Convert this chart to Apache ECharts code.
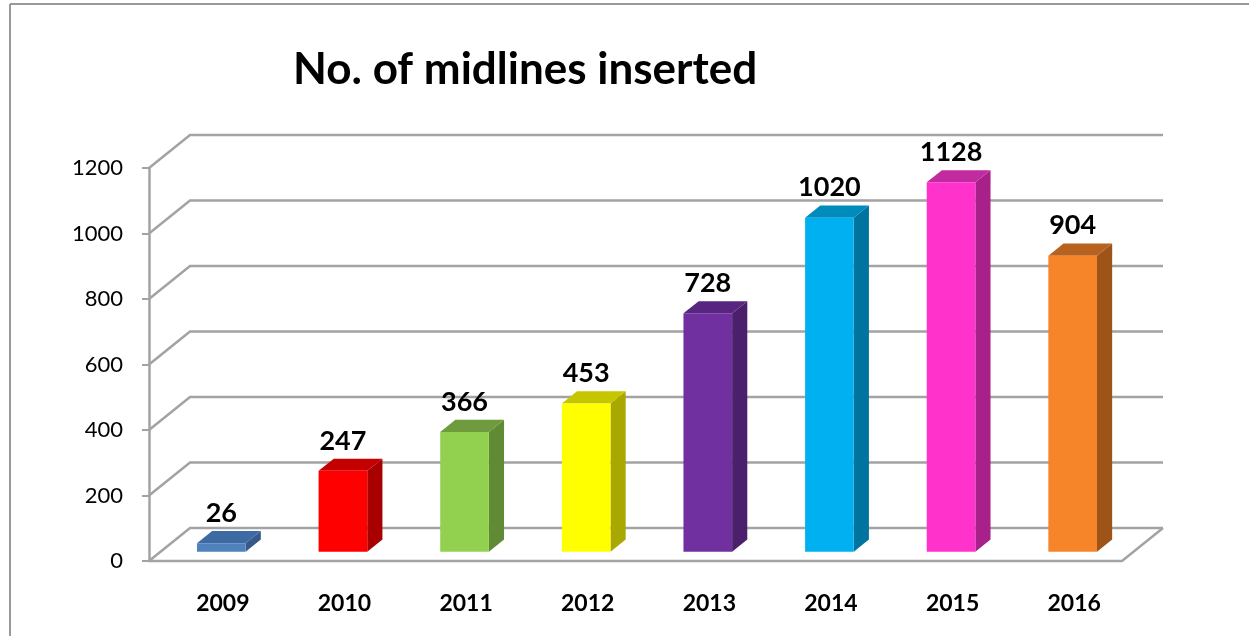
<!DOCTYPE html>
<html>
<head>
<meta charset="utf-8">
<script src="https://cdn.jsdelivr.net/npm/echarts@6/dist/echarts.min.js"></script>
<style>
  html, body { margin: 0; padding: 0; background: #ffffff; }
  #chart { width: 1249px; height: 636px; }
</style>
</head>
<body>
<div id="chart"></div>
<script>
// Chart data
const years = ['2009', '2010', '2011', '2012', '2013', '2014', '2015', '2016'];
const midlines = [26, 247, 366, 453, 728, 1020, 1128, 904];
const yTickValues = [0, 200, 400, 600, 800, 1000, 1200];

// Bar palettes: front face, right side, top face
const faceColors = ['#4f81bd', '#ff0000', '#92d050', '#ffff00', '#7030a0', '#00b0f0', '#ff33cc', '#f68428'];
const sideColors = ['#36598a', '#a80000', '#608a33', '#a8a800', '#4a1f6b', '#00739e', '#a8218a', '#9e5419'];
const topColors  = ['#3d6aa3', '#c40000', '#6f9b3e', '#c6c600', '#582680', '#008bbd', '#c22aa0', '#b8621f'];

// Perspective offset from the front plane to the back wall (pixels)
const DEPTH_X = 41;
const DEPTH_Y = -33;
// Bars sit partway into the depth and occupy part of it
const BAR_FRONT = 0.28;
const BAR_DEPTH = 0.37;
const BAR_WIDTH = 0.4;

const GRID_COLOR = '#a3a3a3';

const chart = echarts.init(document.getElementById('chart'), null, { renderer: 'canvas' });

function renderFrame(params, api) {
  const cs = params.coordSys;
  const v = api.value(1);
  const y = api.coord([0, v])[1];
  const x0 = cs.x;
  const x1 = cs.x + cs.width;
  const style = { stroke: GRID_COLOR, lineWidth: 2.5, fill: null };
  const children = [{
    type: 'polyline',
    shape: { points: [[x0, y], [x0 + DEPTH_X, y + DEPTH_Y], [x1 + DEPTH_X, y + DEPTH_Y]] },
    style: style
  }];
  if (v === 0) {
    children.push({
      type: 'polyline',
      shape: { points: [[x0, y], [x1, y], [x1 + DEPTH_X, y + DEPTH_Y]] },
      style: style
    });
  }
  return { type: 'group', children: children };
}

function renderBar(params, api) {
  const i = api.value(0);
  const v = api.value(1);
  const band = api.size([1, 0])[0];
  const base = api.coord([i, 0]);
  const top = api.coord([i, v]);
  const fx = BAR_FRONT * DEPTH_X, fy = BAR_FRONT * DEPTH_Y;
  const dx = BAR_DEPTH * DEPTH_X, dy = BAR_DEPTH * DEPTH_Y;
  const w = band * BAR_WIDTH;
  const xl = base[0] - w / 2 + fx;
  const xr = xl + w;
  const yb = base[1] + fy;
  const yt = top[1] + fy;
  return {
    type: 'group',
    children: [
      {
        type: 'polygon',
        shape: { points: [[xr, yb], [xr, yt], [xr + dx, yt + dy], [xr + dx, yb + dy]] },
        style: { fill: sideColors[i] }
      },
      {
        type: 'polygon',
        shape: { points: [[xl, yt], [xr, yt], [xr + dx, yt + dy], [xl + dx, yt + dy]] },
        style: { fill: topColors[i] }
      },
      {
        type: 'rect',
        shape: { x: xl, y: yt, width: w, height: yb - yt },
        style: { fill: faceColors[i] }
      },
      {
        type: 'text',
        x: (xl + xr) / 2,
        y: yt - 30,
        style: {
          text: String(v),
          fill: '#000000',
          font: 'bold 27px Lato',
          textAlign: 'center',
          textVerticalAlign: 'middle'
        }
      }
    ]
  };
}

chart.setOption({
  backgroundColor: '#ffffff',
  animation: false,
  title: {
    text: 'No. of midlines inserted',
    left: 288,
    top: 43,
    textStyle: { fontFamily: 'Lato', fontWeight: 'bold', fontSize: 44, color: '#000000' }
  },
  graphic: [
    { type: 'line', shape: { x1: 10, y1: 4, x2: 1249, y2: 4 }, style: { stroke: '#999999', lineWidth: 2 } },
    { type: 'line', shape: { x1: 10, y1: 4, x2: 10, y2: 636 }, style: { stroke: '#999999', lineWidth: 2 } }
  ],
  grid: { left: 149, top: 168, width: 973, height: 393 },
  xAxis: {
    type: 'category',
    data: years,
    boundaryGap: true,
    axisLine: { show: false },
    axisTick: { show: false },
    axisLabel: {
      margin: 31,
      padding: [0, 0, 0, 26],
      fontFamily: 'Lato',
      fontWeight: 'bold',
      fontSize: 23,
      color: '#000000'
    }
  },
  yAxis: {
    type: 'value',
    min: 0,
    max: 1200,
    interval: 200,
    splitLine: { show: false },
    axisLine: { show: true, lineStyle: { color: GRID_COLOR, width: 2.5 } },
    axisTick: { show: true, length: 7, lineStyle: { color: GRID_COLOR, width: 2 } },
    axisLabel: {
      margin: 26,
      fontFamily: 'Lato',
      fontSize: 22,
      color: '#000000',
      formatter: value => String(value)
    }
  },
  series: [
    {
      type: 'custom',
      name: 'frame',
      z: 1,
      silent: true,
      data: yTickValues.map(v => [0, v]),
      encode: { x: 0, y: 1 },
      renderItem: renderFrame
    },
    {
      type: 'custom',
      name: 'midlines',
      z: 2,
      data: midlines.map((v, i) => [i, v]),
      encode: { x: 0, y: 1 },
      renderItem: renderBar
    }
  ]
});
</script>
</body>
</html>
